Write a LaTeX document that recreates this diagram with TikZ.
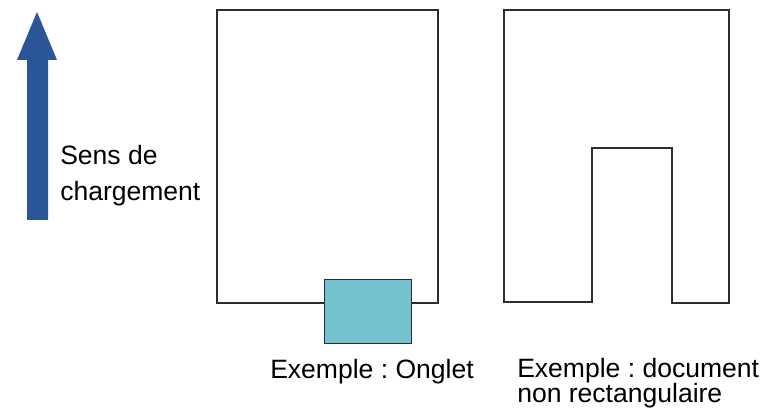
\documentclass[tikz,border=0pt]{standalone}
\usepackage{fontspec}
\setmainfont{Liberation Sans}
\usetikzlibrary{positioning}
\definecolor{sensblue}{RGB}{42,86,152}
\definecolor{ongletcyan}{RGB}{116,194,207}
\definecolor{docline}{RGB}{45,45,45}
\tikzset{
  docshape/.style={draw=docline, line width=1.8pt, line join=miter},
  ongletbox/.style={draw=docline, line width=0.9pt, fill=ongletcyan},
  sensarrow/.style={fill=sensblue, draw=none},
  lbl/.style={inner sep=0pt, anchor=base west, font=\fontsize{19.9}{23}\selectfont, text=black},
}
\frenchspacing
\begin{document}
\begin{tikzpicture}[x=0.75pt, y=-0.75pt]
  \useasboundingbox (0,0) rectangle (762,409);
  % loading direction
  \fill[sensarrow] (27,220) -- (27,60) -- (17,60) -- (37,12) -- (57,60) -- (48,60) -- (48,220) -- cycle;
  \node[lbl] (sens)   at (60,165) {Sens de};
  \node[lbl] (charge) at (60,201) {chargement};
  % document with tab
  \draw[docshape] (217,10) rectangle (438,303);
  \node[ongletbox, minimum width=87*0.75pt, minimum height=64*0.75pt, inner sep=0pt, anchor=north west] (onglet) at (324,279) {};
  \node[lbl] (exA) at (270,378) {Exemple : Onglet};
  % non rectangular document
  \draw[docshape] (504,10) -- (729,10) -- (729,303) -- (672,303) -- (672,148)
                  -- (592,148) -- (592,302) -- (504,302) -- cycle;
  \node[lbl] (exB)  at (517,377) {Exemple : document};
  \node[lbl] (exB2) at (517,402) {non rectangulaire};
\end{tikzpicture}
\end{document}
